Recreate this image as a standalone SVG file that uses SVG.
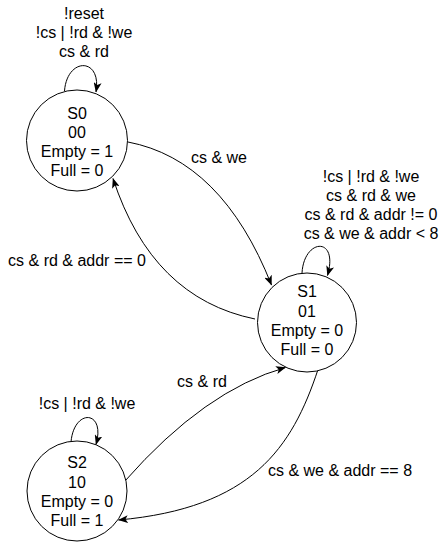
<svg xmlns="http://www.w3.org/2000/svg" width="446" height="542" viewBox="0 0 446 542">
<style>
text{font-family:"Liberation Sans",Arial,sans-serif;font-size:16px;fill:#000;text-anchor:middle}
.st{fill:#fff;stroke:#000;stroke-width:1}
.e{fill:none;stroke:#000;stroke-width:1;marker-end:url(#arr)}
</style>
<defs>
<marker id="arr" markerUnits="userSpaceOnUse" markerWidth="10" markerHeight="8" viewBox="0 0 10 8" refX="9.5" refY="4" orient="auto">
<path d="M0,0 L10,4 L0,8 L2.5,4 z" fill="#000"/>
</marker>
</defs>
<rect width="446" height="542" fill="#fff"/>
<g id="connectors">
<path class="e" d="M 64.5 91 C 67 57, 102 57, 96 92"/>
<path class="e" d="M 302 273 C 304 238, 339 236, 327.5 275.5"/>
<path class="e" d="M 71 442 C 74 408, 106 410, 96 444.5"/>
<path class="e" d="M 128 142 Q 222 160 271.5 285"/>
<path class="e" d="M 255 319 Q 152 298 113 178.5"/>
<path class="e" d="M 125 481 Q 205 390 285.5 367.5"/>
<path class="e" d="M 318 369.5 C 292 448, 252 508, 118.5 520"/>
<g id="labels">
<text x="84" y="19">!reset</text>
<text x="84" y="38.2">!cs | !rd &amp; !we</text>
<text x="84" y="57.4">cs &amp; rd</text>
<text x="371" y="181.5">!cs | !rd &amp; !we</text>
<text x="371" y="200.7">cs &amp; rd &amp; we</text>
<text x="371" y="219.9">cs &amp; rd &amp; addr != 0</text>
<text x="371" y="239.1">cs &amp; we &amp; addr &lt; 8</text>
<text x="87" y="409">!cs | !rd &amp; !we</text>
<text x="219" y="163">cs &amp; we</text>
<text x="77" y="265.5">cs &amp; rd &amp; addr == 0</text>
<text x="202" y="387">cs &amp; rd</text>
<text x="340" y="475.5">cs &amp; we &amp; addr == 8</text>
</g>
</g>
<g id="S0">
<circle class="st" cx="77" cy="140.5" r="50.5"/>
<text x="77" y="118.7">S0</text>
<text x="77" y="137.9">00</text>
<text x="77" y="157.1">Empty = 1</text>
<text x="77" y="176.3">Full = 0</text>
</g>
<g id="S1">
<circle class="st" cx="307" cy="322.5" r="49.5"/>
<text x="307" y="297.4">S1</text>
<text x="307" y="316.6">01</text>
<text x="307" y="335.8">Empty = 0</text>
<text x="307" y="355">Full = 0</text>
</g>
<g id="S2">
<circle class="st" cx="77" cy="491" r="50"/>
<text x="77" y="468.4">S2</text>
<text x="77" y="487.6">10</text>
<text x="77" y="506.8">Empty = 0</text>
<text x="77" y="526">Full = 1</text>
</g>
</svg>
